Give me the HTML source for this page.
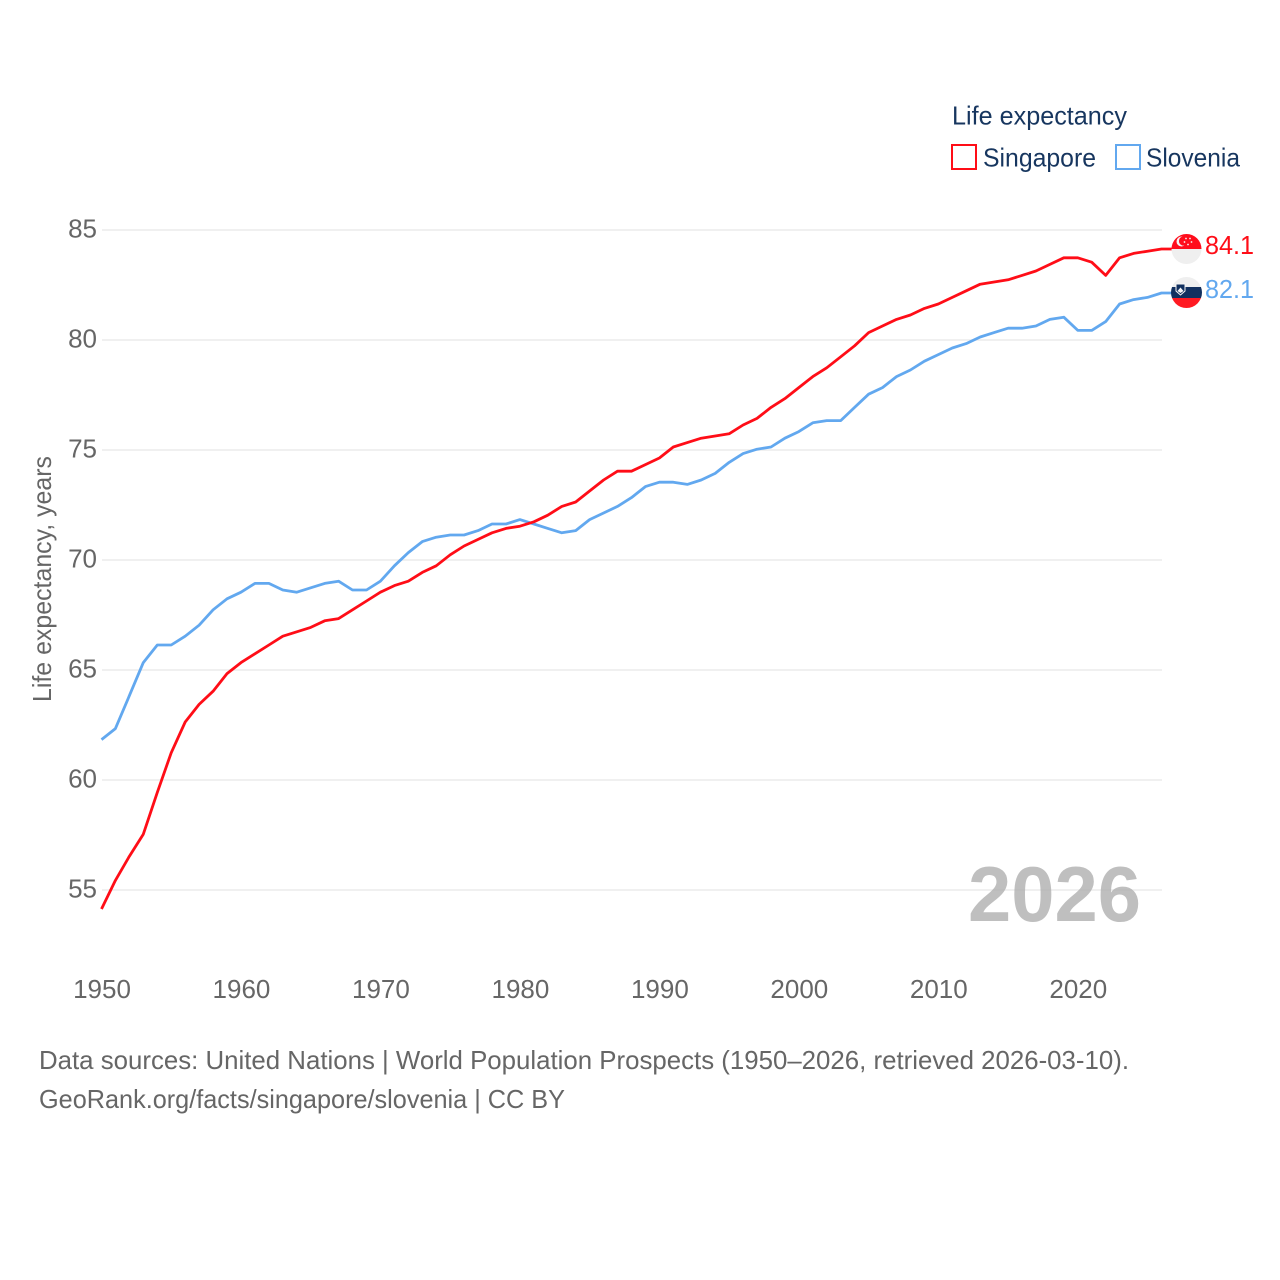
<!DOCTYPE html>
<html lang="en">
<head>
<meta charset="utf-8">
<title>Life expectancy: Singapore and Slovenia</title>
<style>
html,body{margin:0;padding:0;background:#fff;width:1280px;height:1280px;overflow:hidden}
svg{display:block}
text{font-family:"Liberation Sans",sans-serif;font-size:26px}
</style>
</head>
<body>
<svg id="chart" width="1280" height="1280" viewBox="0 0 1280 1280" xmlns="http://www.w3.org/2000/svg">
  <g id="grid"></g>
  <g id="yticks"></g>
  <g id="xticks"></g>
  <text transform="translate(51,702) rotate(-90)" fill="#666" textLength="246" lengthAdjust="spacingAndGlyphs">Life expectancy, years</text>

  <g id="series"></g>

  <text x="968" y="921" fill="#aaa" fill-opacity="0.75" font-weight="bold" style="font-size:78px" textLength="173" lengthAdjust="spacingAndGlyphs">2026</text>

  <g>
    <text x="952" y="124.500" fill="#17365f" textLength="175" lengthAdjust="spacingAndGlyphs">Life expectancy</text>
    <g>
      <rect x="952" y="145" width="24" height="24" fill="#fff" stroke="#ff0d17" stroke-width="2"/>
      <text x="983" y="166.500" fill="#17365f" textLength="113" lengthAdjust="spacingAndGlyphs">Singapore</text>
    </g>
    <g>
      <rect x="1116" y="145" width="24" height="24" fill="#fff" stroke="#62a8ef" stroke-width="2"/>
      <text x="1146" y="166.500" fill="#17365f" textLength="94" lengthAdjust="spacingAndGlyphs">Slovenia</text>
    </g>
  </g>

  <defs>
    <clipPath id="clip-sg"><circle cx="1186.5" cy="249" r="15"/></clipPath>
    <clipPath id="clip-si"><circle cx="1186.5" cy="292.5" r="15.5"/></clipPath>
  </defs>
  <g clip-path="url(#clip-sg)">
    <rect x="1171" y="234" width="31" height="15" fill="#ff0d1c"/>
    <rect x="1171" y="249" width="31" height="15" fill="#efefef"/>
    <circle cx="1181.5" cy="241.5" r="5" fill="#f4f4f4"/>
    <circle cx="1183.5" cy="241" r="4.6" fill="#ff0d1c"/>
    <circle cx="1186" cy="238.5" r="0.9" fill="#f4f4f4"/>
    <circle cx="1190" cy="238.5" r="0.9" fill="#f4f4f4"/>
    <circle cx="1184.5" cy="242" r="0.9" fill="#f4f4f4"/>
    <circle cx="1191.5" cy="242" r="0.9" fill="#f4f4f4"/>
    <circle cx="1188" cy="244.5" r="0.9" fill="#f4f4f4"/>
  </g>
  <g clip-path="url(#clip-si)">
    <rect x="1170" y="277" width="33" height="11" fill="#efefef"/>
    <rect x="1170" y="287" width="33" height="11" fill="#12305f"/>
    <rect x="1170" y="298" width="33" height="11" fill="#ff1a22"/>
    <path d="M1176 284h9v7l-4.5 4-4.500-4z" fill="#12305f" stroke="#f4f4f4" stroke-width="1"/>
    <path d="M1177.500 291l3-3.500 3 3.500-3 2z" fill="#f4f4f4"/>
  </g>

  <text x="1205" y="254" fill="#ff0d17" textLength="49" lengthAdjust="spacingAndGlyphs">84.1</text>
  <text x="1205" y="298" fill="#62a8ef" textLength="49" lengthAdjust="spacingAndGlyphs">82.1</text>

  <g>
    <text x="39" y="1069" fill="#666" textLength="1090" lengthAdjust="spacingAndGlyphs">Data sources: United Nations | World Population Prospects (1950–2026, retrieved 2026-03-10).</text>
    <text x="39" y="1108" fill="#666" textLength="526" lengthAdjust="spacingAndGlyphs">GeoRank.org/facts/singapore/slovenia | CC BY</text>
  </g>
</svg>
<script>
const startYear = 1950;
const yTickValues = [55, 60, 65, 70, 75, 80, 85];
const xTickValues = [1950, 1960, 1970, 1980, 1990, 2000, 2010, 2020];
const singaporeValues = [54.1,55.4,56.5,57.5,59.4,61.2,62.6,63.4,64.0,64.8,65.3,65.7,66.1,66.5,66.7,66.9,67.2,67.3,67.7,68.1,68.5,68.8,69.0,69.4,69.7,70.2,70.6,70.9,71.2,71.4,71.5,71.7,72.0,72.4,72.6,73.1,73.6,74.0,74.0,74.3,74.6,75.1,75.3,75.5,75.6,75.7,76.1,76.4,76.9,77.3,77.8,78.3,78.7,79.2,79.7,80.3,80.6,80.9,81.1,81.4,81.6,81.9,82.2,82.5,82.6,82.7,82.9,83.1,83.4,83.7,83.7,83.5,82.9,83.7,83.9,84.0,84.1];
const sloveniaValues = [61.8,62.3,63.8,65.3,66.1,66.1,66.5,67.0,67.7,68.2,68.5,68.9,68.9,68.6,68.5,68.7,68.9,69.0,68.6,68.6,69.0,69.7,70.3,70.8,71.0,71.1,71.1,71.3,71.6,71.6,71.8,71.6,71.4,71.2,71.3,71.8,72.1,72.4,72.8,73.3,73.5,73.5,73.4,73.6,73.9,74.4,74.8,75.0,75.1,75.5,75.8,76.2,76.3,76.3,76.9,77.5,77.8,78.3,78.6,79.0,79.3,79.6,79.8,80.1,80.3,80.5,80.5,80.6,80.9,81.0,80.4,80.4,80.8,81.6,81.8,81.9,82.1];

const NS = 'http://www.w3.org/2000/svg';
const xScale = year => 101.5 + (year - 1950) * 13.947;
const yScale = value => 890 - (value - 55) * 22;
const lineY = value => yScale(value) - 0.8;

const grid = document.getElementById('grid');
const yticks = document.getElementById('yticks');
const xticks = document.getElementById('xticks');
const series = document.getElementById('series');

yTickValues.forEach(v => {
  const line = document.createElementNS(NS, 'line');
  
  
  line.setAttribute('x1', 102);
  line.setAttribute('x2', 1162);
  line.setAttribute('y1', yScale(v));
  line.setAttribute('y2', yScale(v));
  line.setAttribute('stroke', '#ececec');
  line.setAttribute('stroke-width', 1.5);
  grid.appendChild(line);

  const label = document.createElementNS(NS, 'text');
  
  
  label.setAttribute('x', 97);
  label.setAttribute('y', yScale(v) + 7.5);
  label.setAttribute('text-anchor', 'end');
  label.setAttribute('fill', '#666');
  label.textContent = v;
  yticks.appendChild(label);
});

xTickValues.forEach(y => {
  const label = document.createElementNS(NS, 'text');
  
  
  label.setAttribute('x', xScale(y) + 0.5);
  label.setAttribute('y', 998);
  label.setAttribute('text-anchor', 'middle');
  label.setAttribute('fill', '#666');
  label.textContent = y;
  xticks.appendChild(label);
});

function drawSeries(values, color, name) {
  const pts = values.map((v, i) => xScale(startYear + i).toFixed(1) + ',' + lineY(v).toFixed(1));
  const lastY = lineY(values[values.length - 1]).toFixed(1);
  pts.push('1172,' + lastY);
  const line = document.createElementNS(NS, 'polyline');
  
  
  line.setAttribute('points', pts.join(' '));
  line.setAttribute('fill', 'none');
  line.setAttribute('stroke', color);
  line.setAttribute('stroke-width', 2.8);
  line.setAttribute('stroke-linejoin', 'round');
  series.appendChild(line);
}
drawSeries(sloveniaValues, '#62a8ef', 'line-slovenia');
drawSeries(singaporeValues, '#ff0d17', 'line-singapore');
</script>
</body>
</html>
